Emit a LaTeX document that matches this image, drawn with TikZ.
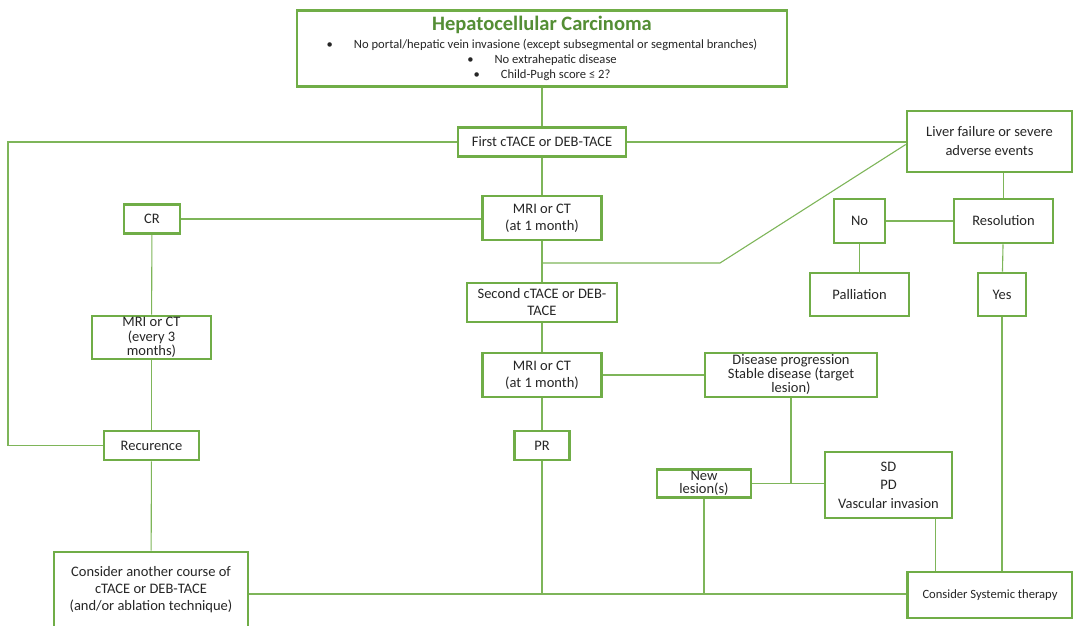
\documentclass[tikz,border=0pt]{standalone}
\usepackage{fontspec}
\setmainfont{Carlito}
\usetikzlibrary{positioning,calc}
\definecolor{leaf}{RGB}{112,173,71}
\definecolor{moss}{RGB}{84,142,53}
\definecolor{ink}{RGB}{38,38,38}
\tikzset{
  gbox/.style={draw=leaf,line width=2.6pt,fill=white,align=center,inner sep=0pt,text=ink,font=\fontsize{14.5}{17}\selectfont},
  tight/.style={font=\fontsize{14.5}{14}\selectfont},
  link/.style={draw=leaf!90,line width=1.1pt}
}

\begin{document}
\begin{tikzpicture}[x=1pt,y=-1pt]
  \useasboundingbox (0,0) rectangle (1073,625);

  % header
  \node[gbox,minimum width=490,minimum height=76,font=\fontsize{12.6}{15}\selectfont] (hcc) at (542,48.5)
    {{\fontsize{20.5}{21}\selectfont\bfseries\textcolor{moss}{Hepatocellular Carcinoma}}\\[3pt]
     \textbullet\hspace{21pt}No portal/hepatic vein invasione (except subsegmental or segmental branches)\\
     \textbullet\hspace{21pt}No extrahepatic disease\\
     \textbullet\hspace{21pt}Child-Pugh score ≤ 2?};

  % centre column
  \node[gbox,minimum width=168,minimum height=29] (first) at (542,142) {First cTACE or DEB-TACE};
  \node[gbox,minimum width=119,minimum height=44] (mri1) at (542,218) {MRI or CT\\(at 1 month)};
  \node[gbox,minimum width=150,minimum height=39] (second) at (542,302.5) {Second cTACE or DEB-\\TACE};
  \node[gbox,minimum width=119,minimum height=44] (mri2) at (542,375) {MRI or CT\\(at 1 month)};
  \node[gbox,minimum width=55,minimum height=29] (pr) at (542,445.5) {PR};

  % left column
  \node[gbox,minimum width=56,minimum height=29] (cr) at (152,219) {CR};
  \node[gbox,font=\fontsize{14.5}{14.5}\selectfont,minimum width=119,minimum height=43] (mri3) at (151.5,337.5) {MRI or CT\\(every 3\\months)};
  \node[gbox,minimum width=95,minimum height=29] (recur) at (151.5,445.5) {Recurence};
  \node[gbox,minimum width=194,minimum height=76] (another) at (151,590)
    {Consider another course of\\cTACE or DEB-TACE\\(and/or ablation technique)};

  % right part
  \node[gbox,minimum width=165,minimum height=61,font=\fontsize{14.5}{19}\selectfont] (liver) at (989.5,141.5) {Liver failure or severe\\adverse events};
  \node[gbox,minimum width=51,minimum height=44] (no) at (859.5,221) {No};
  \node[gbox,minimum width=99,minimum height=44] (res) at (1003.5,221) {Resolution};
  \node[gbox,minimum width=99,minimum height=43] (pall) at (859.5,294.5) {Palliation};
  \node[gbox,minimum width=48,minimum height=43] (yes) at (1002,294.5) {Yes};
  \node[gbox,tight,minimum width=172,minimum height=44] (dp) at (791,375)
    {Disease progression\\Stable disease (target\\lesion)};
  \node[gbox,font=\fontsize{14.5}{13}\selectfont,minimum width=94,minimum height=28] (newl) at (704,483.5) {New\\lesion(s)};
  \node[gbox,font=\fontsize{14.5}{18.5}\selectfont,minimum width=127,minimum height=66] (sd) at (888.5,485)
    {SD\\PD\\Vascular invasion};
  \node[gbox,font=\fontsize{12.6}{13}\selectfont,minimum width=165,minimum height=46] (sys) at (990,595)
    {Consider Systemic therapy};

  \coordinate (lft) at (8,142);
  \coordinate (kink) at (720,263);
  \coordinate (bot) at (0,594);

  % connectors
  \draw[link] (hcc) -- (first);
  \draw[link] (first) -- (mri1);
  \draw[link] (mri1) -- (second);
  \draw[link] (second) -- (mri2);
  \draw[link] (mri2) -- (pr);
  \draw[link] (first.west) -- (lft) |- (recur.west);
  \draw[link] (first.east) -- (first.east -| liver.west);
  \draw[link] (mri1.south |- kink) -- (kink) -- ([yshift=-3pt]liver.west);
  \draw[link] (cr.east) -- (cr.east -| mri1.west);
  \draw[link] (cr) -- (mri3);
  \draw[link] (mri3) -- (recur);
  \draw[link] (recur) -- (another);
  \draw[link] (mri2.east) -- (mri2.east -| dp.west);
  \draw[link] (res.north |- liver.south) -- (res.north);
  \draw[link] (no) -- (res);
  \draw[link] (no) -- (pall);
  \draw[link] (res) -- (yes);
  \draw[link] (yes.south) -- (yes.south |- sys.north);
  \draw[link] (newl.east) -- (sd.west |- newl.east);
  \draw[link] (dp.south) -- (dp.south |- newl.east);
  \draw[link] ([xshift=47pt]sd.south) -- ([xshift=47pt]sd.south |- sys.north);
  \draw[link] (another.east |- bot) -- (sys.west |- bot);
  \draw[link] (pr.south) -- (pr.south |- bot);
  \draw[link] (newl.south) -- (newl.south |- bot);
\end{tikzpicture}
\end{document}
